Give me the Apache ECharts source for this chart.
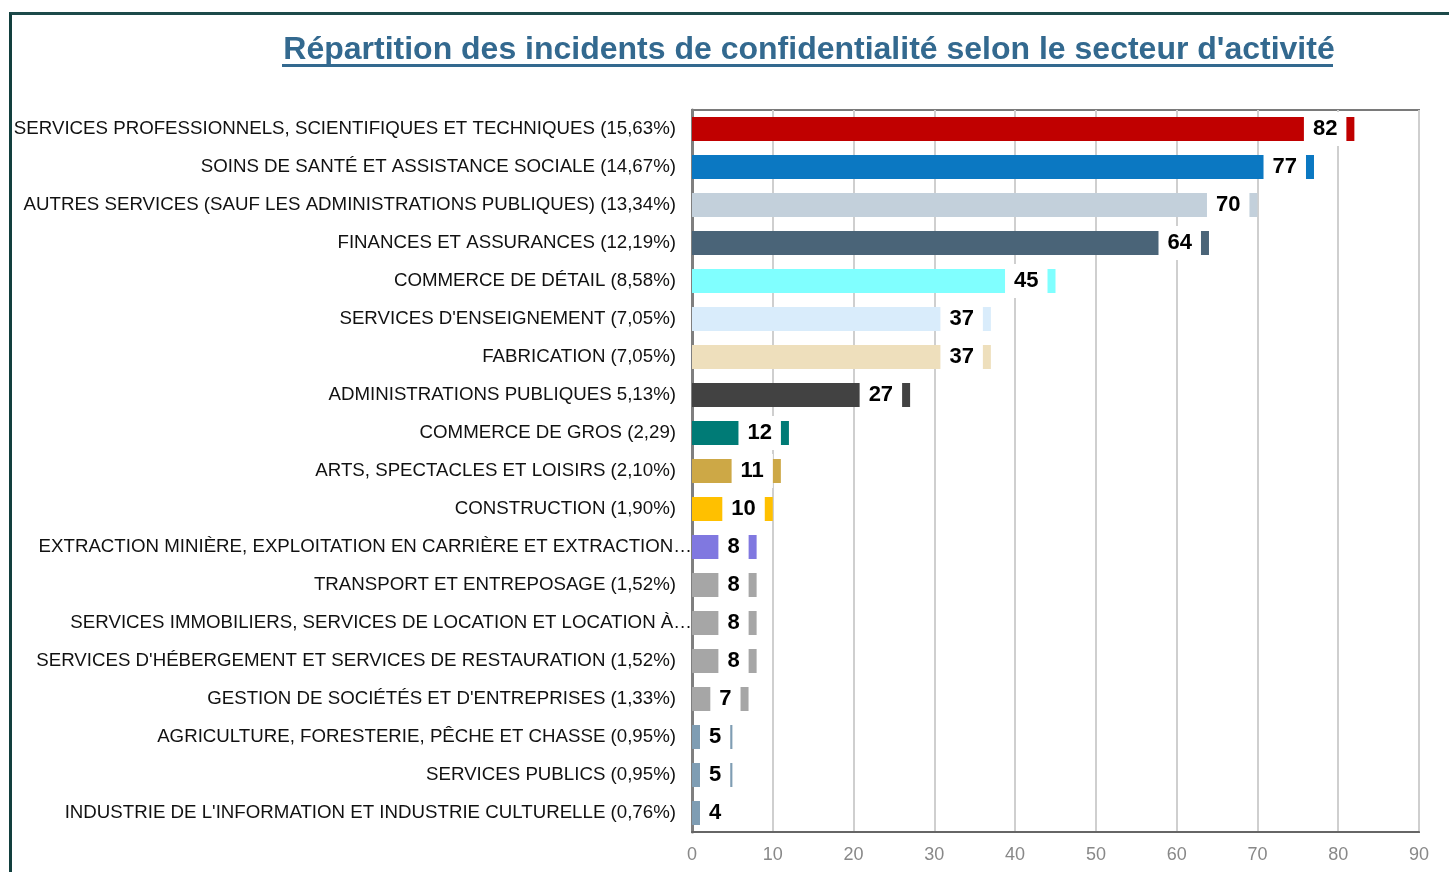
<!DOCTYPE html>
<html>
<head>
<meta charset="utf-8">
<style>
  html, body { margin: 0; padding: 0; background: #fff; }
  #frame {
    position: absolute; left: 9px; top: 12px; right: -5px; bottom: -5px;
    border-left: 3px solid #123f3e; border-top: 3px solid #1d4a4a;
  }
  #chart { position: absolute; left: 0; top: 0; width: 1449px; height: 872px; }
</style>
<script src="https://cdn.jsdelivr.net/npm/echarts@6/dist/echarts.min.js"></script>
</head>
<body>
<div id="frame"></div>
<div id="chart"></div>
<script>
// secteurs, du plus grand au plus petit
const sectors = [
  'SERVICES PROFESSIONNELS, SCIENTIFIQUES ET TECHNIQUES (15,63%)',
  'SOINS DE SANTÉ ET ASSISTANCE SOCIALE (14,67%)',
  'AUTRES SERVICES (SAUF LES ADMINISTRATIONS PUBLIQUES) (13,34%)',
  'FINANCES ET ASSURANCES (12,19%)',
  'COMMERCE DE DÉTAIL (8,58%)',
  "SERVICES D'ENSEIGNEMENT (7,05%)",
  'FABRICATION (7,05%)',
  'ADMINISTRATIONS PUBLIQUES 5,13%)',
  'COMMERCE DE GROS (2,29)',
  'ARTS, SPECTACLES ET LOISIRS (2,10%)',
  'CONSTRUCTION (1,90%)',
  'EXTRACTION MINIÈRE, EXPLOITATION EN CARRIÈRE ET EXTRACTION…',
  'TRANSPORT ET ENTREPOSAGE (1,52%)',
  'SERVICES IMMOBILIERS, SERVICES DE LOCATION ET LOCATION À…',
  "SERVICES D'HÉBERGEMENT ET SERVICES DE RESTAURATION (1,52%)",
  "GESTION DE SOCIÉTÉS ET D'ENTREPRISES (1,33%)",
  'AGRICULTURE, FORESTERIE, PÊCHE ET CHASSE (0,95%)',
  'SERVICES PUBLICS (0,95%)',
  "INDUSTRIE DE L'INFORMATION ET INDUSTRIE CULTURELLE (0,76%)"
]
const incidents = [82, 77, 70, 64, 45, 37, 37, 27, 12, 11, 10, 8, 8, 8, 8, 7, 5, 5, 4]
const barColors = [
  '#c00000', '#0b78c2', '#c3d0db', '#4a6478', '#80ffff', '#d9ecfb', '#eedfbc',
  '#424242', '#007b76', '#cda846', '#ffc000', '#8078e0', '#a6a6a6', '#a6a6a6',
  '#a6a6a6', '#a6a6a6', '#7f9db3', '#7f9db3', '#7f9db3'
]
const xTicks = [0, 10, 20, 30, 40, 50, 60, 70, 80, 90]

const chart = echarts.init(document.getElementById('chart'))

chart.setOption({
  animation: false,
  title: {
    left: 804,
    textAlign: 'center',
    top: 29,
    text: "Répartition des incidents de confidentialité selon le secteur d'activité",
    textStyle: {
      fontFamily: 'Liberation Sans',
      fontSize: 32,
      fontWeight: 'bold',
      color: '#33698f'
    }
  },
  graphic: [{
    // soulignement du titre
    type: 'rect',
    shape: { x: 282, y: 64, width: 1051, height: 3 },
    style: { fill: '#33698f' }
  }],
  grid: {
    left: 692,
    right: 30,
    top: 110,
    bottom: 40,
    show: true,
    borderColor: '#7a7a7a',
    borderWidth: 2
  },
  xAxis: {
    type: 'value',
    min: xTicks[0],
    max: xTicks[xTicks.length - 1],
    interval: 10,
    axisLine: { show: true, lineStyle: { color: '#666', width: 2 } },
    axisTick: { show: false },
    splitLine: { lineStyle: { color: '#cfcfcf', width: 2 } },
    axisLabel: {
      margin: 14,
      fontFamily: 'Liberation Sans',
      fontSize: 18,
      color: '#888'
    }
  },
  yAxis: {
    type: 'category',
    inverse: true,
    data: sectors.map(s => s.endsWith('…')
      ? { value: s, textStyle: { padding: [0, -16, 0, 0] } }
      : s),
    axisLine: { show: true, lineStyle: { color: '#7f7f7f', width: 3 } },
    axisTick: { show: false },
    axisLabel: {
      margin: 16,
      fontFamily: 'Liberation Sans',
      fontSize: 18.7,
      color: '#111'
    }
  },
  series: [{
    type: 'bar',
    barWidth: '63%',
    data: incidents.map((v, i) => {
      const item = { value: v, itemStyle: { color: barColors[i] } }
      // étiquette trop large pour la barre : collée au début de la barre
      if (v < 6) item.label = { position: 'insideLeft' }
      return item
    }),
    label: {
      show: true,
      position: 'insideRight',
      distance: 8,
      backgroundColor: '#fff',
      padding: [6, 9],
      fontFamily: 'Liberation Sans',
      fontSize: 22,
      fontWeight: 'bold',
      color: '#000'
    }
  }]
})
</script>
</body>
</html>
